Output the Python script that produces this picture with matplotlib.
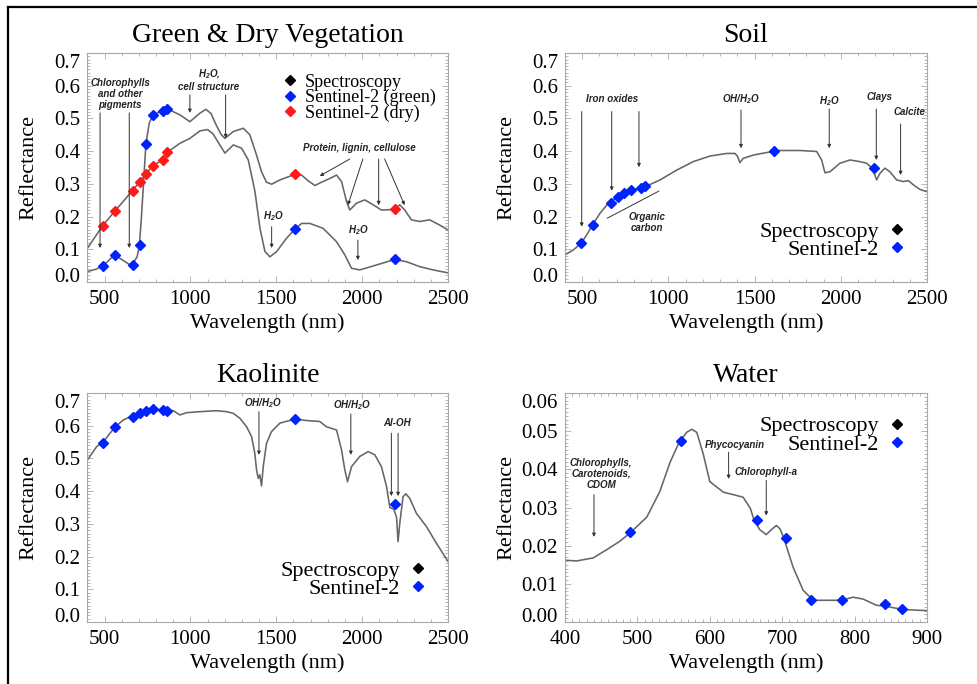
import matplotlib
matplotlib.use("Agg")
import matplotlib.pyplot as plt
from matplotlib.lines import Line2D
from matplotlib.ticker import MultipleLocator, FuncFormatter
from matplotlib.transforms import ScaledTranslation
import numpy as np

plt.rcParams['font.family'] = ['Liberation Serif', 'DejaVu Serif']
plt.rcParams['mathtext.fontset'] = 'custom'
plt.rcParams['mathtext.rm'] = 'Liberation Sans:bold:italic'
plt.rcParams['mathtext.it'] = 'Liberation Sans:bold:italic'
plt.rcParams['mathtext.bf'] = 'Liberation Sans:bold:italic'

# ---------------- data ----------------
s2_bands = [490, 560, 665, 705, 740, 783, 842, 865, 1610, 2190]
s2_bands_vnir = [490, 560, 665, 705, 740, 783, 842, 865]

# vegetation: curve through the green VNIR points
veg_a_wl = [400, 450, 493, 530, 559, 600, 640, 662, 690, 703, 715, 726, 741, 760, 782,
            840, 867, 939, 997, 1055, 1090, 1120, 1150, 1180, 1201, 1250, 1308, 1346,
            1385, 1414, 1443, 1473, 1521, 1608, 1647, 1686, 1725, 1763, 1822, 1851,
            1880, 1909, 1928, 1967, 2015, 2064, 2112, 2190, 2219, 2248, 2287, 2335,
            2393, 2452, 2500]
veg_a_refl = [0.032, 0.039, 0.050, 0.069, 0.083, 0.069, 0.055, 0.052, 0.078, 0.112, 0.200,
              0.292, 0.422, 0.485, 0.511, 0.524, 0.529, 0.511, 0.490, 0.516, 0.528, 0.515,
              0.480, 0.450, 0.439, 0.460, 0.470, 0.450, 0.388, 0.337, 0.305, 0.299, 0.312,
              0.329, 0.327, 0.309, 0.295, 0.305, 0.319, 0.327, 0.307, 0.246, 0.220, 0.241,
              0.251, 0.236, 0.220, 0.222, 0.236, 0.220, 0.190, 0.185, 0.190, 0.174, 0.159]
# vegetation: curve through the dry VNIR points
veg_b_wl = [400, 489, 559, 662, 703, 741, 782, 840, 867, 939, 997, 1056, 1100, 1133, 1170,
            1201, 1250, 1298, 1337, 1376, 1405, 1434, 1463, 1502, 1560, 1608, 1647, 1696,
            1773, 1851, 1899, 1938, 1986, 2083, 2190, 2258, 2335, 2413, 2500]
veg_b_refl = [0.103, 0.172, 0.216, 0.279, 0.305, 0.330, 0.356, 0.373, 0.397, 0.424, 0.439,
              0.462, 0.466, 0.452, 0.420, 0.394, 0.419, 0.409, 0.373, 0.276, 0.164, 0.093,
              0.077, 0.093, 0.134, 0.161, 0.179, 0.179, 0.164, 0.123, 0.083, 0.042, 0.037,
              0.052, 0.069, 0.062, 0.047, 0.037, 0.028]
veg_green_s2 = [0.050, 0.083, 0.052, 0.112, 0.422, 0.511, 0.524, 0.529, 0.161, 0.070]
veg_dry_s2 = [0.172, 0.216, 0.279, 0.305, 0.330, 0.356, 0.373, 0.397, 0.329, 0.222]

soil_wl = [400, 448, 493, 526, 559, 603, 642, 661, 700, 742, 781, 839, 868, 951, 1048, 1144,
           1241, 1338, 1386, 1400, 1415, 1434, 1492, 1603, 1647, 1763, 1860, 1889, 1908,
           1937, 1995, 2053, 2111, 2150, 2183, 2208, 2227, 2256, 2285, 2324, 2363, 2392,
           2421, 2459, 2500]
soil_refl = [0.083, 0.098, 0.118, 0.144, 0.174, 0.210, 0.235, 0.243, 0.259, 0.273, 0.281,
             0.288, 0.292, 0.312, 0.342, 0.368, 0.385, 0.393, 0.393, 0.385, 0.365, 0.378,
             0.388, 0.399, 0.402, 0.402, 0.399, 0.373, 0.334, 0.337, 0.363, 0.373, 0.368,
             0.363, 0.348, 0.312, 0.332, 0.348, 0.337, 0.312, 0.307, 0.310, 0.297, 0.283,
             0.276]
soil_s2 = [0.118, 0.174, 0.243, 0.259, 0.273, 0.281, 0.288, 0.292, 0.399, 0.348]

kaol_wl = [400, 454, 493, 559, 610, 662, 703, 741, 782, 840, 900, 939, 978, 1055, 1152, 1211,
           1249, 1288, 1327, 1356, 1375, 1385, 1395, 1404, 1414, 1424, 1443, 1472, 1521,
           1606, 1676, 1753, 1792, 1851, 1880, 1899, 1915, 1938, 1986, 2035, 2074, 2112,
           2142, 2161, 2184, 2200, 2209, 2219, 2238, 2254, 2277, 2316, 2374, 2432, 2500]
kaol_refl = [0.495, 0.536, 0.551, 0.595, 0.618, 0.630, 0.640, 0.646, 0.650, 0.648, 0.646,
             0.633, 0.640, 0.643, 0.646, 0.643, 0.638, 0.623, 0.597, 0.567, 0.516, 0.465,
             0.439, 0.450, 0.416, 0.475, 0.546, 0.582, 0.608, 0.620, 0.616, 0.613, 0.597,
             0.587, 0.526, 0.465, 0.429, 0.475, 0.506, 0.521, 0.511, 0.475, 0.414, 0.350,
             0.345, 0.320, 0.246, 0.302, 0.383, 0.392, 0.378, 0.332, 0.292, 0.241, 0.185]
kaol_s2 = [0.546, 0.595, 0.628, 0.640, 0.646, 0.650, 0.648, 0.646, 0.620, 0.360]

water_wl = [400, 416, 439, 458, 476, 492, 513, 531, 545, 557, 568, 575, 582, 591, 600, 610,
            619, 632, 646, 656, 661, 669, 678, 685, 692, 697, 702, 715, 729, 743, 761, 781,
            798, 812, 830, 841, 866, 886, 900]
water_refl = [0.0162, 0.0160, 0.0168, 0.0190, 0.0212, 0.0237, 0.0275, 0.0342, 0.0418,
              0.0468, 0.0497, 0.0505, 0.0497, 0.0440, 0.0368, 0.0353, 0.0340, 0.0334,
              0.0327, 0.0298, 0.0268, 0.0242, 0.0229, 0.0242, 0.0253, 0.0244, 0.0221,
              0.0144, 0.0083, 0.0057, 0.0057, 0.0057, 0.0065, 0.0060, 0.0044, 0.0042,
              0.0033, 0.0031, 0.0030]
water_s2 = [0.0237, 0.0475, 0.0268, 0.0221, 0.0057, 0.0057, 0.0047, 0.0033]

refl_ticks = [0.0, 0.1, 0.2, 0.3, 0.4, 0.5, 0.6, 0.7]
water_ticks = [0.0, 0.01, 0.02, 0.03, 0.04, 0.05, 0.06]

# ---------------- styling helpers ----------------
LINE_C = '#666666'
FRAME_C = '#a8a8a8'
BLUE = '#0022ff'
RED = '#ff1a1a'


def StyleAxes(ax, xlim, xmaj, xmin, yticks, ymin, ndec):
    ax.set_xlim(xlim)
    ax.set_ylim(yticks[0], yticks[-1])
    ax.xaxis.set_major_locator(MultipleLocator(xmaj))
    ax.xaxis.set_minor_locator(MultipleLocator(xmin))
    ax.set_yticks(yticks)
    ax.yaxis.set_minor_locator(MultipleLocator(ymin))
    ax.yaxis.set_major_formatter(FuncFormatter(lambda v, p: f'{v:.{ndec}f}'))
    for s in ax.spines.values():
        s.set_color(FRAME_C)
        s.set_linewidth(0.8)
    ax.tick_params(which='both', direction='in', top=True, right=True, color=FRAME_C, width=0.6)
    ax.tick_params(which='major', length=4)
    ax.tick_params(which='minor', length=2)
    ax.tick_params(axis='x', labelsize=15, pad=6)
    ax.tick_params(axis='y', labelsize=15, pad=5)
    ax.set_xlabel('Wavelength (nm)', fontsize=16)
    ax.set_ylabel('Reflectance', fontsize=16)
    ax.yaxis.set_label_coords(-0.135, 0.5)
    ax.xaxis.set_label_coords(0.5, -0.135)
    ax.xaxis.label.set_va('top')
    # end labels pushed inside the frame like the original
    ylabs = ax.get_yticklabels()
    dpi_t = ax.figure.dpi_scale_trans
    ylabs[0].set_transform(ylabs[0].get_transform() + ScaledTranslation(0, 0.07, dpi_t))
    ylabs[-1].set_transform(ylabs[-1].get_transform() + ScaledTranslation(0, -0.08, dpi_t))


def Note(ax, text, x, y):
    ax.text(x, y, text, ha='center', va='center', fontsize=7, family='Liberation Sans',
            weight='bold', style='italic', color='#222222', linespacing=1.15)


def Arrow(ax, x0, y0, x1, y1, head=True):
    ax.annotate('', xy=(x1, y1), xytext=(x0, y0),
                arrowprops=dict(arrowstyle='-|>' if head else '-', color='#333333',
                                lw=0.7, mutation_scale=5, shrinkA=0, shrinkB=0))


def Legend(ax, labels, colors, anchor, markerfirst, size, loc):
    handles = [Line2D([], [], marker='D', ls='none', color=c, mec=c, ms=5.5) for c in colors]
    ax.legend(handles, labels, loc=loc, bbox_to_anchor=anchor, frameon=False, fontsize=size,
              handlelength=0.6, handletextpad=0.5, labelspacing=-0.1, borderpad=0,
              borderaxespad=0, markerfirst=markerfirst)


fig = plt.figure(figsize=(9.77, 6.84), dpi=100)
axVeg = fig.add_axes([0.0894, 0.5877, 0.3692, 0.3348])
axSoil = fig.add_axes([0.5783, 0.5877, 0.3705, 0.3348])
axKaol = fig.add_axes([0.0894, 0.0906, 0.3692, 0.3348])
axWat = fig.add_axes([0.5783, 0.0906, 0.3705, 0.3348])

# ---- Green & Dry Vegetation ----
ax = axVeg
ax.plot(veg_a_wl, veg_a_refl, color=LINE_C, lw=1.15)
ax.plot(veg_b_wl, veg_b_refl, color=LINE_C, lw=1.15)
ax.plot(s2_bands, veg_green_s2, 'D', color=BLUE, ms=5.5, zorder=3)
ax.plot(s2_bands, veg_dry_s2, 'D', color=RED, ms=5.5, zorder=3)
StyleAxes(ax, (400, 2500), 500, 100, refl_ticks, 0.01, 1)
ax.set_title('Green & Dry Vegetation', fontsize=20, pad=8)
Note(ax, 'Chlorophylls\nand other\npigments', 591, 0.575)
Arrow(ax, 474, 0.517, 474, 0.104)
Arrow(ax, 644, 0.517, 644, 0.104)
Note(ax, 'H$_2$O,\ncell structure', 1108, 0.618)
Arrow(ax, 997, 0.572, 997, 0.517)
Arrow(ax, 1205, 0.572, 1205, 0.440)
Note(ax, 'Protein, lignin, cellulose', 1986, 0.41)
Arrow(ax, 1928, 0.376, 1753, 0.324)
Arrow(ax, 2004, 0.376, 1917, 0.235)
Arrow(ax, 2096, 0.376, 2096, 0.235)
Arrow(ax, 2131, 0.376, 2247, 0.235)
Note(ax, 'H$_2$O', 1480, 0.20)
Arrow(ax, 1473, 0.169, 1473, 0.104)
Note(ax, 'H$_2$O', 1975, 0.16)
Arrow(ax, 1975, 0.128, 1975, 0.067)
Legend(ax, ['Spectroscopy', 'Sentinel-2 (green)', 'Sentinel-2 (dry)'], ['black', BLUE, RED],
       (0.547, 0.91), True, 13, 'upper left')

# ---- Soil ----
ax = axSoil
ax.plot(soil_wl, soil_refl, color=LINE_C, lw=1.15)
ax.plot(s2_bands, soil_s2, 'D', color=BLUE, ms=5.5, zorder=3)
StyleAxes(ax, (400, 2500), 500, 100, refl_ticks, 0.01, 1)
ax.set_title('Soil', fontsize=20, pad=8)
Note(ax, 'Iron oxides', 671, 0.560)
Arrow(ax, 497, 0.521, 497, 0.169)
Arrow(ax, 671, 0.521, 671, 0.279)
Arrow(ax, 829, 0.521, 829, 0.351)
Note(ax, 'Organic\ncarbon', 874, 0.181)
Arrow(ax, 645, 0.195, 945, 0.278, head=False)
Note(ax, 'OH/H$_2$O', 1421, 0.560)
Arrow(ax, 1421, 0.526, 1421, 0.409)
Note(ax, 'H$_2$O', 1933, 0.553)
Arrow(ax, 1933, 0.529, 1933, 0.409)
Note(ax, 'Clays', 2223, 0.565)
Arrow(ax, 2206, 0.529, 2206, 0.373)
Note(ax, 'Calcite', 2397, 0.519)
Arrow(ax, 2347, 0.483, 2347, 0.327)
Legend(ax, ['Spectroscopy', 'Sentinel-2'], ['black', BLUE], (0.935, 0.265), False, 16,
       'upper right')

# ---- Kaolinite ----
ax = axKaol
ax.plot(kaol_wl, kaol_refl, color=LINE_C, lw=1.15)
ax.plot(s2_bands, kaol_s2, 'D', color=BLUE, ms=5.5, zorder=3)
StyleAxes(ax, (400, 2500), 500, 100, refl_ticks, 0.01, 1)
ax.set_title('Kaolinite', fontsize=20, pad=8)
Note(ax, 'OH/H$_2$O', 1424, 0.669)
Arrow(ax, 1399, 0.643, 1399, 0.511)
Note(ax, 'OH/H$_2$O', 1938, 0.664)
Arrow(ax, 1934, 0.636, 1934, 0.511)
Note(ax, 'Al-OH', 2200, 0.608)
Arrow(ax, 2170, 0.577, 2170, 0.385)
Arrow(ax, 2209, 0.577, 2209, 0.385)
Legend(ax, ['Spectroscopy', 'Sentinel-2'], ['black', BLUE], (0.935, 0.27), False, 16,
       'upper right')

# ---- Water ----
ax = axWat
ax.plot(water_wl, water_refl, color=LINE_C, lw=1.15)
ax.plot(s2_bands_vnir, water_s2, 'D', color=BLUE, ms=5.5, zorder=3)
StyleAxes(ax, (400, 900), 100, 10, water_ticks, 0.001, 2)
ax.set_title('Water', fontsize=20, pad=8)
Note(ax, 'Chlorophylls,\nCarotenoids,\nCDOM', 450, 0.0388)
Arrow(ax, 440, 0.0334, 440, 0.0223)
Note(ax, 'Phycocyanin', 635, 0.0465)
Arrow(ax, 626, 0.0445, 626, 0.0375)
Note(ax, 'Chlorophyll-a', 678, 0.0392)
Arrow(ax, 678, 0.0371, 678, 0.0279)
Legend(ax, ['Spectroscopy', 'Sentinel-2'], ['black', BLUE], (0.935, 0.9), False, 16,
       'upper right')

# frame around the whole figure (top and left edges visible)
fig.add_artist(Line2D([8 / 977, 1.0], [1 - 7 / 684] * 2, color='black', lw=1.6,
                      transform=fig.transFigure))
fig.add_artist(Line2D([8 / 977] * 2, [0.0, 1 - 7 / 684], color='black', lw=1.6,
                      transform=fig.transFigure))

fig.savefig('out.png', dpi=100)
